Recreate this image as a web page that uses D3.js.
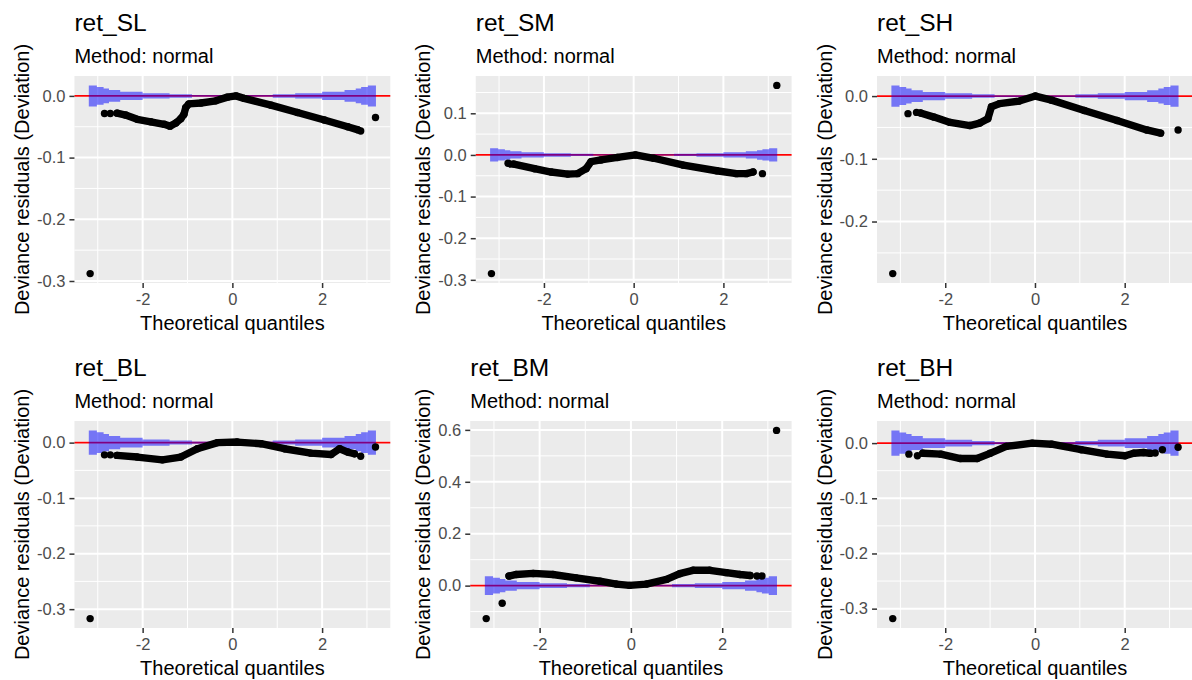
<!DOCTYPE html>
<html>
<head>
<meta charset="utf-8">
<script src="https://cdn.jsdelivr.net/npm/d3@7"></script>
<style>
  body { margin: 0; background: #fff; }
  svg text { font-family: "Liberation Sans", Arial, sans-serif; }
</style>
</head>
<body>
<div id="chart"></div>
<script>
// theoretical quantile ticks, shared by all panels
const xTicks = [-2, 0, 2];

// band: |x| edges where the step changes (last one = band end)
const bandEdges = [0.9, 1.4, 2.0, 2.5, 2.75, 2.87, 3.02, 3.2];

// ret_SL
const slBody = [[-2.57, -0.028], [-2.38, -0.031], [-2.12, -0.038], [-1.82, -0.042], [-1.52, -0.046],
  [-1.39, -0.049], [-1.26, -0.044], [-1.15, -0.037], [-1.08, -0.030], [-1.04, -0.019], [-0.97, -0.013],
  [-0.70, -0.0115], [-0.37, -0.008], [-0.11, -0.002], [0.08, 0.0], [0.26, -0.004], [0.86, -0.015],
  [1.45, -0.027], [2.05, -0.039], [2.57, -0.050], [2.80, -0.055]];
const slTails = [[-3.17, -0.288], [-2.85, -0.0285], [-2.72, -0.0285], [2.86, -0.057], [3.19, -0.035]];
const slBand = [0.0015, 0.0028, 0.0044, 0.0066, 0.0094, 0.012, 0.0143, 0.017];
const slTicks = [-0.3, -0.2, -0.1, 0.0];

// ret_SM
const smBody = [[-2.67, -0.022], [-2.21, -0.033], [-1.84, -0.041], [-1.47, -0.046], [-1.25, -0.045],
  [-1.06, -0.033], [-0.95, -0.016], [-0.73, -0.012], [-0.36, -0.006], [0.04, 0.0], [0.45, -0.008],
  [1.11, -0.0245], [1.85, -0.038], [2.29, -0.045], [2.51, -0.045], [2.66, -0.041]];
const smTails = [[-3.17, -0.285], [-2.80, -0.020], [-2.74, -0.022], [2.87, -0.045], [3.19, 0.167]];
const smBand = [0.0014, 0.0026, 0.0042, 0.0062, 0.0088, 0.0113, 0.0135, 0.016];
const smTicks = [-0.3, -0.2, -0.1, 0.0, 0.1];

// ret_SH
const shBody = [[-2.55, -0.027], [-2.25, -0.0335], [-1.89, -0.042], [-1.45, -0.047], [-1.23, -0.043],
  [-1.05, -0.036], [-0.97, -0.017], [-0.79, -0.012], [-0.35, -0.008], [0.01, 0.0], [0.37, -0.0065],
  [1.10, -0.023], [1.83, -0.039], [2.49, -0.054], [2.80, -0.059]];
const shTails = [[-3.17, -0.283], [-2.83, -0.028], [-2.64, -0.026], [3.19, -0.054]];
const shBand = [0.0015, 0.0028, 0.0044, 0.0066, 0.0094, 0.012, 0.0143, 0.017];
const shTicks = [-0.2, -0.1, 0.0];

// ret_BL
const blBody = [[-2.57, -0.023], [-2.12, -0.026], [-1.56, -0.031], [-1.15, -0.026], [-0.78, -0.011],
  [-0.33, 0.0], [0.11, 0.001], [0.64, -0.002], [1.16, -0.011], [1.75, -0.019], [2.20, -0.0215],
  [2.39, -0.011], [2.57, -0.017], [2.72, -0.020]];
const blTails = [[-3.17, -0.317], [-2.85, -0.022], [-2.72, -0.022], [2.86, -0.0245], [3.19, -0.008]];
const blBand = [0.0019, 0.0036, 0.0057, 0.0086, 0.0121, 0.0156, 0.0185, 0.022];
const blTicks = [-0.3, -0.2, -0.1, 0.0];

// ret_BM
const bmBody = [[-2.67, 0.037], [-2.51, 0.043], [-2.14, 0.047], [-1.71, 0.043], [-1.20, 0.030],
  [-0.68, 0.017], [-0.32, 0.006], [-0.03, 0.001], [0.34, 0.006], [0.78, 0.024], [1.07, 0.046],
  [1.36, 0.059], [1.73, 0.059], [2.09, 0.050], [2.39, 0.043], [2.61, 0.039]];
const bmTails = [[-3.17, -0.127], [-2.82, -0.068], [2.76, 0.037], [2.87, 0.037], [3.19, 0.598]];
const bmBand = [0.0032, 0.0059, 0.0094, 0.014, 0.0198, 0.0256, 0.0302, 0.036];
const bmTicks = [0.0, 0.2, 0.4, 0.6];

// ret_BH
const bhBody = [[-2.50, -0.0185], [-2.10, -0.020], [-1.66, -0.028], [-1.29, -0.028], [-1.00, -0.0185],
  [-0.64, -0.006], [-0.06, 0.0], [0.37, -0.002], [1.03, -0.012], [1.61, -0.020], [2.01, -0.023],
  [2.20, -0.0185], [2.42, -0.017], [2.57, -0.0185]];
const bhTails = [[-3.17, -0.318], [-2.81, -0.020], [-2.62, -0.023], [2.68, -0.018], [2.84, -0.012], [3.19, -0.0074]];
const bhBand = [0.002, 0.0038, 0.006, 0.009, 0.0127, 0.0163, 0.0193, 0.023];
const bhTicks = [-0.3, -0.2, -0.1, 0.0];

const panels = [
    { name: "ret_SL", body: slBody, tails: slTails, band: slBand, yTicks: slTicks },
    { name: "ret_SM", body: smBody, tails: smTails, band: smBand, yTicks: smTicks },
    { name: "ret_SH", body: shBody, tails: shTails, band: shBand, yTicks: shTicks },
    { name: "ret_BL", body: blBody, tails: blTails, band: blBand, yTicks: blTicks },
    { name: "ret_BM", body: bmBody, tails: bmTails, band: bmBand, yTicks: bmTicks },
    { name: "ret_BH", body: bhBody, tails: bhTails, band: bhBand, yTicks: bhTicks }
];

const width = 1192, height = 680;
const cellW = 401.3, cellH = 345;
const tickFont = 16.5;

const svg = d3.select("#chart")
    .append("svg")
    .attr("width", width)
    .attr("height", height);

function textWidth(str, size) {
    const t = svg.append("text").attr("font-size", size).text(str);
    const w = t.node().getComputedTextLength();
    t.remove();
    return w;
}

// ggplot style 5% expansion
function expand([lo, hi]) {
    const pad = (hi - lo) * 0.05;
    return [lo - pad, hi + pad];
}

// minor breaks: midpoints between majors, plus half a step past each end
function minorBreaks(ticks, domain) {
    const step = ticks[1] - ticks[0];
    const out = [ticks[0] - step / 2];
    ticks.forEach(t => out.push(t + step / 2));
    return out.filter(v => v >= domain[0] && v <= domain[1]);
}

panels.forEach((p, i) => {
    const col = i % 3, row = Math.floor(i / 3);
    const cx = col * cellW, cy = row * cellH;

    const labelW = d3.max(p.yTicks, v => textWidth(v.toFixed(1), tickFont));
    const left = cx + 46 + labelW;
    const right = cx + 390.3;
    const top = cy + 76, bottom = cy + 283;

    // band outline (step shape, symmetric around 0)
    const bandPts = [];
    for (let k = bandEdges.length - 1; k >= 0; k--) bandPts.push([-bandEdges[k], p.band[k]]);
    for (let k = 0; k < bandEdges.length - 1; k++) bandPts.push([bandEdges[k], p.band[k + 1]]);
    bandPts.push([bandEdges[bandEdges.length - 1], p.band[p.band.length - 1]]);

    const allPts = p.body.concat(p.tails);
    const bandMax = d3.max(p.band);
    const xDomain = expand([
        Math.min(d3.min(allPts, d => d[0]), -bandEdges[bandEdges.length - 1]),
        Math.max(d3.max(allPts, d => d[0]), bandEdges[bandEdges.length - 1])
    ]);
    const yDomain = expand([
        Math.min(d3.min(allPts, d => d[1]), -bandMax),
        Math.max(d3.max(allPts, d => d[1]), bandMax)
    ]);

    const x = d3.scaleLinear().domain(xDomain).range([left, right]);
    const y = d3.scaleLinear().domain(yDomain).range([bottom, top]);

    const g = svg.append("g");

    g.append("rect")
        .attr("x", left).attr("y", top)
        .attr("width", right - left).attr("height", bottom - top)
        .attr("fill", "#EBEBEB");

    // minor grid
    g.selectAll(".minor-y")
        .data(minorBreaks(p.yTicks, yDomain))
        .enter().append("line")
        .attr("x1", left).attr("x2", right)
        .attr("y1", d => y(d)).attr("y2", d => y(d))
        .attr("stroke", "#fff").attr("stroke-width", 1);
    g.selectAll(".minor-x")
        .data(minorBreaks(xTicks, xDomain))
        .enter().append("line")
        .attr("y1", top).attr("y2", bottom)
        .attr("x1", d => x(d)).attr("x2", d => x(d))
        .attr("stroke", "#fff").attr("stroke-width", 1);

    // major grid
    g.selectAll(".major-y")
        .data(p.yTicks)
        .enter().append("line")
        .attr("x1", left).attr("x2", right)
        .attr("y1", d => y(d)).attr("y2", d => y(d))
        .attr("stroke", "#fff").attr("stroke-width", 2);
    g.selectAll(".major-x")
        .data(xTicks)
        .enter().append("line")
        .attr("y1", top).attr("y2", bottom)
        .attr("x1", d => x(d)).attr("x2", d => x(d))
        .attr("stroke", "#fff").attr("stroke-width", 2);

    // reference line at 0
    g.append("line")
        .attr("x1", left).attr("x2", right)
        .attr("y1", y(0)).attr("y2", y(0))
        .attr("stroke", "#FF0000").attr("stroke-width", 1.7);

    // confidence band
    const area = d3.area()
        .x(d => x(d[0]))
        .y0(d => y(-d[1]))
        .y1(d => y(d[1]))
        .curve(d3.curveStepAfter);

    g.append("path")
        .datum(bandPts)
        .attr("d", area)
        .attr("fill", "#0000FF")
        .attr("fill-opacity", 0.5);

    // dense run of points
    const line = d3.line()
        .x(d => x(d[0]))
        .y(d => y(d[1]));

    g.append("path")
        .datum(p.body)
        .attr("d", line)
        .attr("fill", "none")
        .attr("stroke", "#000")
        .attr("stroke-width", 7.4)
        .attr("stroke-linecap", "round")
        .attr("stroke-linejoin", "round");

    g.selectAll(".pt")
        .data(allPts)
        .enter().append("circle")
        .attr("cx", d => x(d[0]))
        .attr("cy", d => y(d[1]))
        .attr("r", 3.7)
        .attr("fill", "#000");

    // axes
    const yAxis = g.append("g")
        .attr("transform", `translate(${left},0)`)
        .call(d3.axisLeft(y).tickValues(p.yTicks).tickFormat(d => d.toFixed(1))
            .tickSize(5).tickPadding(4));
    const xAxis = g.append("g")
        .attr("transform", `translate(0,${bottom})`)
        .call(d3.axisBottom(x).tickValues(xTicks).tickFormat(d => String(d))
            .tickSize(5).tickPadding(5));

    [yAxis, xAxis].forEach(a => {
        a.select(".domain").remove();
        a.attr("font-size", tickFont).attr("font-family", null);
        a.selectAll(".tick line").attr("stroke", "#333333").attr("stroke-width", 1.5);
        a.selectAll(".tick text").attr("fill", "#4D4D4D");
    });

    // titles
    g.append("text")
        .attr("x", left).attr("y", cy + 31)
        .attr("font-size", 24.5)
        .attr("fill", "#000")
        .text(p.name);

    g.append("text")
        .attr("x", left).attr("y", cy + 63)
        .attr("font-size", 20)
        .attr("fill", "#000")
        .text("Method: normal");

    g.append("text")
        .attr("x", (left + right) / 2).attr("y", cy + 330)
        .attr("text-anchor", "middle")
        .attr("font-size", 20)
        .attr("fill", "#000")
        .text("Theoretical quantiles");

    g.append("text")
        .attr("transform", `translate(${cx + 29},${(top + bottom) / 2}) rotate(-90)`)
        .attr("text-anchor", "middle")
        .attr("font-size", 20)
        .attr("fill", "#000")
        .text("Deviance residuals (Deviation)");
});
</script>
</body>
</html>
